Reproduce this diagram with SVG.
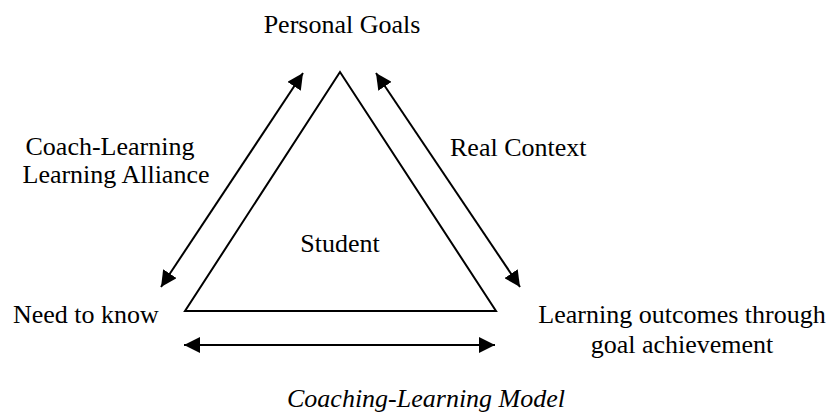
<svg xmlns="http://www.w3.org/2000/svg" width="831" height="414" viewBox="0 0 831 414">
<style>
.t{font-family:"Liberation Serif","Times New Roman",serif;font-size:26px;fill:#000}
.c{text-anchor:middle}
.cap{font-family:"Liberation Serif","Times New Roman",serif;font-size:26px;font-style:italic;fill:#000}
.conn{stroke:#000;stroke-width:2;fill:none;marker-start:url(#ah);marker-end:url(#ah)}
</style>
<defs>
<marker id="ah" markerUnits="userSpaceOnUse" markerWidth="18" markerHeight="16" refX="16" refY="8" orient="auto-start-reverse" viewBox="0 0 18 16">
<path d="M0,0 L16,8 L0,16 z" fill="#000"/>
</marker>
</defs>
<rect width="831" height="414" fill="#fff"/>
<g id="student">
<polygon points="340,72 185,311 496,311" fill="none" stroke="#000" stroke-width="2" stroke-linejoin="miter"/>
<text class="t c" x="340" y="252">Student</text>
</g>
<g id="personal-goals"><text class="t c" x="342" y="33">Personal Goals</text></g>
<g id="need-to-know"><text class="t" x="13" y="323">Need to know</text></g>
<g id="learning-outcomes">
<text class="t c" x="682" y="323">Learning outcomes through</text>
<text class="t c" x="682" y="353">goal achievement</text>
</g>
<g id="connectors">
<line class="conn" x1="303" y1="73" x2="161" y2="287"/>
<line class="conn" x1="376" y1="73" x2="520" y2="287"/>
<line class="conn" x1="184" y1="345" x2="495" y2="345"/>
</g>
<g id="labels">
<text class="t c" x="110" y="155">Coach-Learning</text>
<text class="t c" x="116" y="183">Learning Alliance</text>
<text class="t" x="450" y="156">Real Context</text>
</g>
<text class="cap" x="287" y="407">Coaching-Learning Model</text>
</svg>
